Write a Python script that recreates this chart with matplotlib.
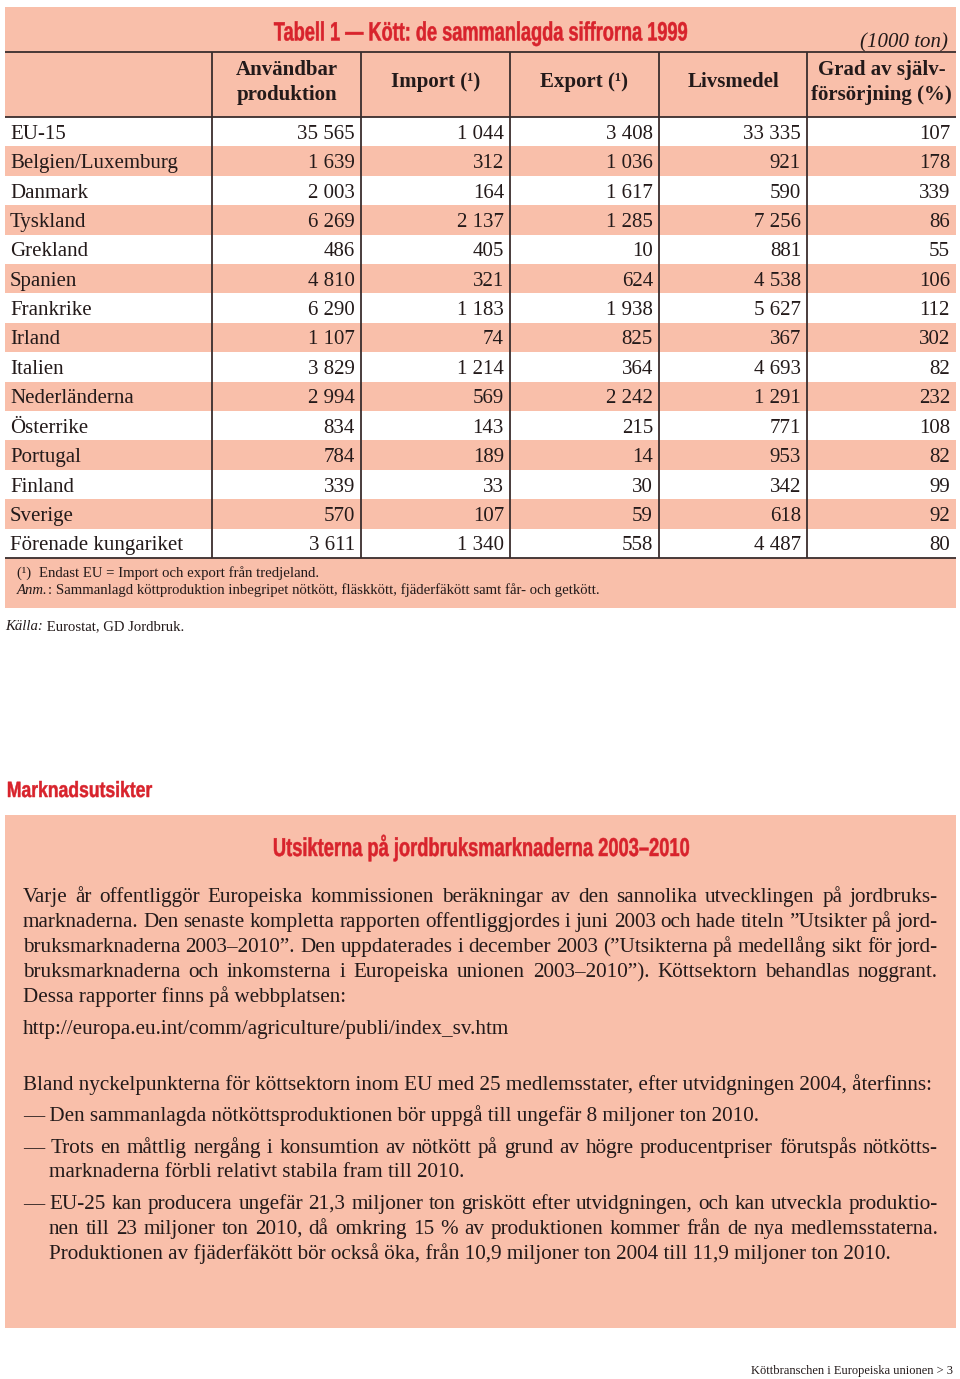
# Kött-tabell 1999 + marknadsutsikter, page recreated with plain matplotlib

import matplotlib.pyplot as plt
from matplotlib.font_manager import FontProperties
from matplotlib.patches import PathPatch
from matplotlib.textpath import TextPath
from matplotlib.transforms import Affine2D

countries = ["EU-15", "Belgien/Luxemburg", "Danmark", "Tyskland", "Grekland",
             "Spanien", "Frankrike", "Irland", "Italien", "Nederländerna",
             "Österrike", "Portugal", "Finland", "Sverige", "Förenade kungariket"]
produktion = [35565, 1639, 2003, 6269, 486, 4810, 6290, 1107, 3829, 2994, 834, 784, 339, 570, 3611]
import_ = [1044, 312, 164, 2137, 405, 321, 1183, 74, 1214, 569, 143, 189, 33, 107, 1340]
export = [3408, 1036, 1617, 1285, 10, 624, 1938, 825, 364, 2242, 215, 14, 30, 59, 558]
livsmedel = [33335, 921, 590, 7256, 881, 4538, 5627, 367, 4693, 1291, 771, 953, 342, 618, 4487]
grad = [107, 178, 339, 86, 55, 106, 112, 302, 82, 232, 108, 82, 99, 92, 80]

headers = ["Användbar\nproduktion", "Import (¹)", "Export (¹)", "Livsmedel",
           "Grad av själv-\nförsörjning (%)"]

title = "Tabell 1 — Kött: de sammanlagda siffrorna 1999"
unit = "(1000 ton)"
footnote = "Endast EU = Import och export från tredjeland."
anm = "Sammanlagd köttproduktion inbegripet nötkött, fläskkött, fjäderfäkött samt får- och getkött."
source = "Eurostat, GD Jordbruk."

section = "Marknadsutsikter"
box_title = "Utsikterna på jordbruksmarknaderna 2003–2010"
# (text, indent level, justified)
body_lines = [
    ("Varje år offentliggör Europeiska kommissionen beräkningar av den sannolika utvecklingen på jordbruks-", 0, True),
    ("marknaderna. Den senaste kompletta rapporten offentliggjordes i juni 2003 och hade titeln ”Utsikter på jord-", 0, True),
    ("bruksmarknaderna 2003–2010”. Den uppdaterades i december 2003 (”Utsikterna på medellång sikt för jord-", 0, True),
    ("bruksmarknaderna och inkomsterna i Europeiska unionen 2003–2010”). Köttsektorn behandlas noggrant.", 0, True),
    ("Dessa rapporter finns på webbplatsen:", 0, False),
    ("http://europa.eu.int/comm/agriculture/publi/index_sv.htm", 0, False),
    ("Bland nyckelpunkterna för köttsektorn inom EU med 25 medlemsstater, efter utvidgningen 2004, återfinns:", 0, False),
    ("— Den sammanlagda nötköttsproduktionen bör uppgå till ungefär 8 miljoner ton 2010.", 1, False),
    ("— Trots en måttlig nergång i konsumtion av nötkött på grund av högre producentpriser förutspås nötkötts-", 1, True),
    ("marknaderna förbli relativt stabila fram till 2010.", 2, False),
    ("— EU-25 kan producera ungefär 21,3 miljoner ton griskött efter utvidgningen, och kan utveckla produktio-", 1, True),
    ("nen till 23 miljoner ton 2010, då omkring 15 % av produktionen kommer från de nya medlemsstaterna.", 2, True),
    ("Produktionen av fjäderfäkött bör också öka, från 10,9 miljoner ton 2004 till 11,9 miljoner ton 2010.", 2, False),
]
body_baselines = [902, 927, 952, 977, 1002, 1034, 1090, 1121, 1153, 1177, 1209, 1234, 1259]
footer = "Köttbranschen i Europeiska unionen > 3"

PINK = "#f9bfaa"
RED = "#d8232c"
INK = "#231a1a"
LINE = "#3a2d2d"
SERIF = ["Liberation Serif", "DejaVu Serif"]
BOLD_SANS = FontProperties(family=["Liberation Sans", "DejaVu Sans"], weight="bold")

W, H = 960, 1379
fig = plt.figure(figsize=(W / 100, H / 100), dpi=100)
ax = fig.add_axes([0, 0, 1, 1])
ax.set_xlim(0, W)
ax.set_ylim(H, 0)
ax.axis("off")
renderer = fig.canvas.get_renderer()


def text_width(s, **kw):
    t = ax.text(0, 0, s, **kw)
    w = t.get_window_extent(renderer).width
    t.remove()
    return w


def draw_runs(x, y, runs):
    # runs: list of (string, style dict) drawn one after another
    for s, kw in runs:
        ax.text(x, y, s, va="baseline", color=INK, **kw)
        x += text_width(s, **kw)


def draw_line(x0, x1, y, s, justify, **kw):
    if not justify:
        ax.text(x0, y, s, va="baseline", **kw)
        return
    words = s.split(" ")
    widths = [text_width(w, **kw) for w in words]
    gap = (x1 - x0 - sum(widths)) / (len(words) - 1)
    x = x0
    for w, wd in zip(words, widths):
        ax.text(x, y, w, va="baseline", **kw)
        x += wd + gap


def draw_condensed(x0, baseline, s, cap_px, width_px):
    # no condensed bold face installed, so squeeze a bold sans path horizontally
    tp = TextPath((0, 0), s, size=cap_px / 0.716, prop=BOLD_SANS)
    ext = tp.get_extents()
    sx = width_px / ext.width
    tr = Affine2D().translate(-ext.x0, 0).scale(sx, -1).translate(x0, baseline)
    ax.add_patch(PathPatch(tr.transform_path(tp), facecolor=RED, edgecolor=RED,
                           lw=0.35, joinstyle="round", zorder=5))


# ---- table block ----
left, right = 5, 956
col_edges = [5, 212, 361, 510, 659, 807, 956]
head_top, head_bot = 52, 117
row_h = 29.4
n = len(countries)
row_c = [head_bot + (i + 0.5) * row_h for i in range(n)]
table_bot = head_bot + n * row_h

ax.barh([(7 + 608) / 2], [right - left], left=left, height=608 - 7, color=PINK, zorder=0)
ax.barh(row_c, [right - left] * n, left=left, height=row_h,
        color=["white" if i % 2 == 0 else PINK for i in range(n)], zorder=1)

ax.hlines([head_top, head_bot, table_bot], left, right, color=LINE, lw=1.3, zorder=3)
ax.vlines(col_edges[1:-1], head_top, table_bot, color=LINE, lw=1.3, zorder=3)

draw_condensed(274, 40.5, title, 19, 413)
ax.text(948, 47, unit, ha="right", va="baseline", color=INK, fontsize=15,
        style="italic", family=SERIF)

for j, h in enumerate(headers):
    cx = (col_edges[j + 1] + col_edges[j + 2]) / 2
    lines = h.split("\n")
    ys = [75, 100] if len(lines) == 2 else [87]
    for ln, yy in zip(lines, ys):
        ax.text(cx, yy, ln, ha="center", va="baseline", color=INK, fontsize=15,
                fontweight="bold", family=SERIF)

cols = [produktion, import_, export, livsmedel, grad]
for i, name in enumerate(countries):
    yb = row_c[i] + 7
    ax.text(10, yb, name, ha="left", va="baseline", color=INK, fontsize=15,
            family=SERIF, zorder=4)
    for j, vals in enumerate(cols):
        s = f"{vals[i]:,}".replace(",", " ")
        ax.text(col_edges[j + 2] - 6, yb, s, ha="right", va="baseline", color=INK,
                fontsize=15, family=SERIF, zorder=4)

reg = dict(fontsize=10.6, family=SERIF)
ital = dict(fontsize=10.6, family=SERIF, style="italic")
draw_runs(17, 577, [("(¹)  ", reg), (footnote, reg)])
draw_runs(17, 594, [("Anm.", ital), (": " + anm, reg)])
draw_runs(5, 630, [("Källa:", ital), (" " + source, reg)])

# ---- market outlook block ----
draw_condensed(8, 797, section, 15.8, 144)
ax.barh([(815 + 1328) / 2], [right - left], left=left, height=1328 - 815, color=PINK, zorder=0)
draw_condensed(274, 856, box_title, 18.5, 415)

indents = {0: 23, 1: 23, 2: 49}
for (s, ind, just), yb in zip(body_lines, body_baselines):
    draw_line(indents[ind], 938, yb, s, just, color=INK, fontsize=15.2, family=SERIF)

ax.text(953, 1374, footer, ha="right", va="baseline", color=INK, fontsize=9, family=SERIF)

fig.savefig("out.png", dpi=100, facecolor="white")
